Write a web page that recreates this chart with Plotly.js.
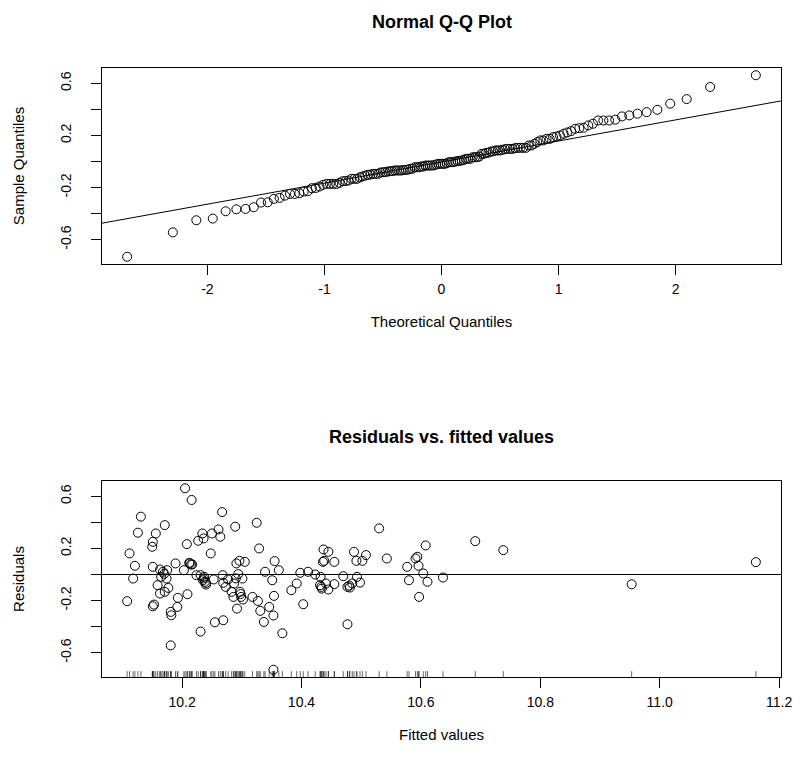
<!DOCTYPE html>
<html>
<head>
<meta charset="utf-8">
<script src="https://cdn.plot.ly/plotly-3.0.1.min.js"></script>
<style>html,body{margin:0;padding:0;background:#fff;}#chart{width:802px;height:775px;}</style>
</head>
<body>
<div id="chart"></div>
<script>
// ---- data (fitted value, residual) ----
const fittedValues = [
  10.108,10.112,10.118,10.121,10.126,10.131,10.150,10.151,10.156,10.151,
  10.151,10.153,10.159,10.163,10.163,10.165,10.168,10.171,10.171,10.174,
  10.175,10.177,10.181,10.182,10.181,10.189,10.193,10.192,10.203,10.205,
  10.208,10.209,10.212,10.215,10.216,10.217,10.224,10.227,10.231,10.234,
  10.236,10.231,10.235,10.237,10.238,10.240,10.248,10.250,10.253,10.255,
  10.261,10.264,10.267,10.269,10.268,10.269,10.273,10.277,10.283,10.286,
  10.287,10.289,10.291,10.292,10.294,10.296,10.297,10.299,10.301,10.302,
  10.305,10.318,10.325,10.327,10.329,10.331,10.337,10.339,10.346,10.351,
  10.353,10.354,10.355,10.353,10.362,10.368,10.383,10.392,10.398,10.403,
  10.411,10.423,10.432,10.431,10.434,10.436,10.437,10.438,10.441,10.445,
  10.445,10.455,10.455,10.470,10.477,10.477,10.481,10.485,10.488,10.492,
  10.493,10.498,10.502,10.508,10.530,10.543,10.577,10.580,10.591,10.594,
  10.596,10.597,10.604,10.608,10.611,10.637,10.691,10.738,10.953,11.161,
  10.170,10.236,10.240,10.290,10.298,10.433,10.480,10.213
];
const residualValues = [
  -0.205,0.162,-0.031,0.067,0.321,0.444,0.213,0.251,0.315,0.059,
  -0.244,-0.231,-0.082,0.038,-0.146,-0.018,0.021,0.379,-0.133,-0.031,
  0.033,-0.103,-0.287,-0.313,-0.544,0.085,-0.179,-0.249,0.033,0.662,
  0.233,-0.151,0.090,0.077,0.572,0.077,-0.005,0.259,-0.438,0.315,
  0.277,-0.005,-0.044,-0.018,-0.056,-0.077,0.162,0.315,-0.038,-0.367,
  0.346,0.290,0.479,-0.351,-0.005,-0.064,-0.095,-0.038,-0.133,-0.172,
  -0.069,0.367,0.085,-0.262,0.003,0.105,-0.133,-0.172,-0.031,-0.192,
  0.097,-0.172,0.397,-0.203,0.200,-0.279,-0.364,0.021,-0.249,-0.044,
  -0.315,-0.164,0.103,-0.731,0.033,-0.451,-0.121,-0.069,0.013,-0.228,
  0.021,0.000,-0.018,-0.082,-0.108,0.097,0.192,0.105,-0.069,0.174,
  -0.115,0.097,-0.074,-0.013,-0.095,-0.382,-0.100,-0.069,0.174,0.105,
  -0.018,-0.062,0.105,0.149,0.354,0.123,0.059,-0.044,0.123,0.136,
  0.067,-0.172,0.008,0.223,-0.056,-0.023,0.256,0.187,-0.075,0.095,
  0.005,-0.030,-0.065,-0.030,-0.150,-0.095,-0.085,0.085
];
const qqTickVals = [-2, -1, 0, 1, 2];
const residTickVals = [-0.6, -0.4, -0.2, 0, 0.2, 0.4, 0.6];
const residTickText = ['-0.6', '', '-0.2', '', '0.2', '', '0.6'];
const fittedTickVals = [10.2, 10.4, 10.6, 10.8, 11.0, 11.2];
const fittedTickText = ['10.2', '10.4', '10.6', '10.8', '11.0', '11.2'];

// ---- helpers (normal quantile function, R-style quantile, R-style range) ----
function qnorm(p) {
  const a=[-3.969683028665376e+01,2.209460984245205e+02,-2.759285104469687e+02,1.383577518672690e+02,-3.066479806614716e+01,2.506628277459239e+00];
  const b=[-5.447609879822406e+01,1.615858368580409e+02,-1.556989798598866e+02,6.680131188771972e+01,-1.328068155288572e+01];
  const c=[-7.784894002430293e-03,-3.223964580411365e-01,-2.400758277161838e+00,-2.549732539343734e+00,4.374664141464968e+00,2.938163982698783e+00];
  const d=[7.784695709041462e-03,3.224671290700398e-01,2.445134137142996e+00,3.754408661907416e+00];
  const pl=0.02425, ph=1-pl; let q, r;
  if (p < pl) { q=Math.sqrt(-2*Math.log(p)); return (((((c[0]*q+c[1])*q+c[2])*q+c[3])*q+c[4])*q+c[5])/((((d[0]*q+d[1])*q+d[2])*q+d[3])*q+1); }
  if (p > ph) { q=Math.sqrt(-2*Math.log(1-p)); return -(((((c[0]*q+c[1])*q+c[2])*q+c[3])*q+c[4])*q+c[5])/((((d[0]*q+d[1])*q+d[2])*q+d[3])*q+1); }
  q=p-0.5; r=q*q;
  return (((((a[0]*r+a[1])*r+a[2])*r+a[3])*r+a[4])*r+a[5])*q/(((((b[0]*r+b[1])*r+b[2])*r+b[3])*r+b[4])*r+1);
}
function quantile7(sorted, p) {
  const h=(sorted.length-1)*p, lo=Math.floor(h);
  return sorted[lo] + (h-lo)*((sorted[lo+1] ?? sorted[lo]) - sorted[lo]);
}
function rRange(arr) {
  const mn=Math.min(...arr), mx=Math.max(...arr), e=0.04*(mx-mn);
  return [mn-e, mx+e];
}

// ---- Q-Q derived from the residuals ----
const n = residualValues.length;
const sampleQ = residualValues.slice().sort((u,v)=>u-v);
const theoQ = sampleQ.map((_, i) => qnorm((i + 1 - 0.5) / n));
const x1=qnorm(0.25), x2=qnorm(0.75);
const y1=quantile7(sampleQ,0.25), y2=quantile7(sampleQ,0.75);
const slope=(y2-y1)/(x2-x1), icpt=y1-slope*x1;

const qqXRange = rRange(theoQ);
const qqYRange = rRange(sampleQ);
const rvXRange = rRange(fittedValues);
const rvYRange = rRange(residualValues);

// rug segments at the bottom of the residual plot
const rugLen = 0.03*(rvYRange[1]-rvYRange[0]);
const rugX = [], rugY = [];
fittedValues.forEach(f => { rugX.push(f, f, null); rugY.push(rvYRange[0], rvYRange[0]+rugLen, null); });

const lineX = [qqXRange[0]-1, qqXRange[1]+1];
const FONT = 'Liberation Sans, Arial, Helvetica, sans-serif';
const marker = {symbol:'circle-open', size:9, color:'#000', line:{color:'#000', width:1}};

const traces = [
  {type:'scatter', mode:'markers', x:theoQ, y:sampleQ, xaxis:'x', yaxis:'y', marker:marker, hoverinfo:'x+y'},
  {type:'scatter', mode:'lines', x:lineX, y:lineX.map(v=>icpt+slope*v), xaxis:'x', yaxis:'y', line:{color:'#000', width:1}, hoverinfo:'skip'},
  {type:'scatter', mode:'markers', x:fittedValues, y:residualValues, xaxis:'x2', yaxis:'y2', marker:marker, hoverinfo:'x+y'},
  {type:'scatter', mode:'lines', x:[rvXRange[0]-1, rvXRange[1]+1], y:[0,0], xaxis:'x2', yaxis:'y2', line:{color:'#000', width:1}, hoverinfo:'skip'},
  {type:'scatter', mode:'lines', x:rugX, y:rugY, xaxis:'x2', yaxis:'y2', line:{color:'#000', width:0.6}, hoverinfo:'skip', connectgaps:false}
];

const TICKFONT = {family:FONT, size:14, color:'#000'};
const TITLEFONT = {family:FONT, size:15, color:'#000'};
const axisCommon = {
  showline:true, mirror:true, linecolor:'#000', linewidth:1,
  ticks:'outside', ticklen:10, tickwidth:1, tickcolor:'#000',
  showgrid:false, zeroline:false, tickfont:TICKFONT,
  fixedrange:true
};
const X0 = 102/802, X1 = 781/802;

const layout = {
  width:802, height:775,
  margin:{l:0, r:0, t:0, b:0},
  paper_bgcolor:'#fff', plot_bgcolor:'#fff',
  showlegend:false,
  font:{family:FONT, color:'#000'},
  xaxis: Object.assign({}, axisCommon, {
    domain:[X0, X1], anchor:'y', range:qqXRange,
    tickmode:'array', tickvals:qqTickVals, ticktext:qqTickVals.map(String),
    ticklabelstandoff:2,
    title:{text:'Theoretical Quantiles', font:TITLEFONT, standoff:20}
  }),
  yaxis: Object.assign({}, axisCommon, {
    domain:[1-264/775, 1-68/775], anchor:'x', range:qqYRange,
    tickmode:'array', tickvals:residTickVals, ticktext:residTickText, tickangle:-90,
    ticklabelstandoff:14,
    title:{text:'Sample Quantiles', font:TITLEFONT, standoff:30}
  }),
  xaxis2: Object.assign({}, axisCommon, {
    domain:[X0, X1], anchor:'y2', range:rvXRange,
    tickmode:'array', tickvals:fittedTickVals, ticktext:fittedTickText,
    ticklabelstandoff:2,
    title:{text:'Fitted values', font:TITLEFONT, standoff:20}
  }),
  yaxis2: Object.assign({}, axisCommon, {
    domain:[1-677/775, 1-481/775], anchor:'x2', range:rvYRange,
    tickmode:'array', tickvals:residTickVals, ticktext:residTickText, tickangle:-90,
    ticklabelstandoff:14,
    title:{text:'Residuals', font:TITLEFONT, standoff:30}
  }),
  annotations:[
    {text:'<b>Normal Q-Q Plot</b>', xref:'paper', yref:'paper', x:(X0+X1)/2, y:1-22/775, xanchor:'center', yanchor:'middle', showarrow:false, font:{family:FONT, size:18, color:'#000'}},
    {text:'<b>Residuals vs. fitted values</b>', xref:'paper', yref:'paper', x:(X0+X1)/2, y:1-437/775, xanchor:'center', yanchor:'middle', showarrow:false, font:{family:FONT, size:18, color:'#000'}}
  ]
};

Plotly.newPlot('chart', traces, layout, {displayModeBar:false, staticPlot:true});
</script>
</body>
</html>
